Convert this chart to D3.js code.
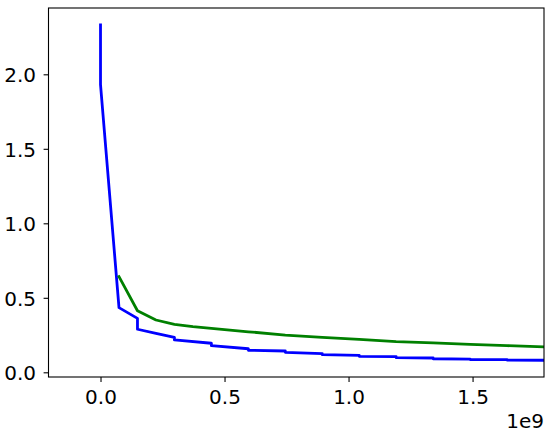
<!DOCTYPE html>
<html>
<head>
<meta charset="utf-8">
<script src="https://cdn.jsdelivr.net/npm/d3@7"></script>
<style>
  body { margin: 0; background: #fff; }
  text { font-family: "DejaVu Sans", sans-serif; fill: #000; }
</style>
</head>
<body>
<svg id="chart"></svg>
<script>
// x values are in units of 1e9 (shown as offset text "1e9")
let blueX = [0, 0, 0.0745, 0.149, 0.149, 0.2235, 0.298, 0.298, 0.447, 0.447, 0.596, 0.596,
             0.745, 0.745, 0.894, 0.894, 1.043, 1.043, 1.192, 1.192, 1.341, 1.341,
             1.49, 1.49, 1.639, 1.639, 1.79];
let blueY = [2.332, 1.93, 0.434, 0.362, 0.289, 0.262, 0.235, 0.217, 0.195, 0.179, 0.158, 0.148,
             0.143, 0.134, 0.125, 0.118, 0.114, 0.107, 0.105, 0.098, 0.096, 0.091,
             0.089, 0.086, 0.085, 0.082, 0.081];
let greenX = [0.0745, 0.149, 0.2235, 0.298, 0.3725, 0.447, 0.5215, 0.596, 0.745, 0.894,
              1.043, 1.192, 1.341, 1.49, 1.639, 1.79];
let greenY = [0.642, 0.413, 0.351, 0.322, 0.307, 0.295, 0.283, 0.272, 0.25, 0.234,
              0.221, 0.206, 0.197, 0.188, 0.179, 0.17];
let xTicks = [0, 0.5, 1.0, 1.5];
let yTicks = [0, 0.5, 1.0, 1.5, 2.0];

let width = 552,
    height = 436,
    mLeft = 48.5, mRight = 544, mTop = 8, mBottom = 377,
    svg = d3.select("#chart").attr("width", width).attr("height", height),
    xScale = d3.scaleLinear([-0.2097, 1.788], [mLeft, mRight]),
    yScale = d3.scaleLinear([-0.0315, 2.445], [mBottom, mTop]),
    xAxis = d3.axisBottom(xScale).tickValues(xTicks).tickFormat(d3.format(".1f")).tickSize(4.9).tickSizeOuter(0),
    yAxis = d3.axisLeft(yScale).tickValues(yTicks).tickFormat(d3.format(".1f")).tickSize(4.9).tickSizeOuter(0);

svg.append("clipPath").attr("id", "plotClip")
    .append("rect")
    .attr("x", mLeft).attr("y", mTop)
    .attr("width", mRight - mLeft).attr("height", mBottom - mTop);

let line = d3.line()
    .x(function(d){ return xScale(d[0]); })
    .y(function(d){ return yScale(d[1]); });

let g = svg.append("g").attr("clip-path", "url(#plotClip)");

g.append("path")
    .datum(blueX.map(function(x, i){ return [x, blueY[i]]; }))
    .attr("d", line)
    .attr("fill", "none")
    .attr("stroke", "#0000ff")
    .attr("stroke-width", 2.8)
    .attr("stroke-linejoin", "round")
    .attr("stroke-linecap", "square");

g.append("path")
    .datum(greenX.map(function(x, i){ return [x, greenY[i]]; }))
    .attr("d", line)
    .attr("fill", "none")
    .attr("stroke", "#008000")
    .attr("stroke-width", 2.8)
    .attr("stroke-linejoin", "round")
    .attr("stroke-linecap", "square");

let gx = svg.append("g")
    .attr("transform", "translate(0," + mBottom + ")")
    .call(xAxis);
gx.select(".domain").remove();
gx.selectAll(".tick line").attr("stroke", "#000").attr("stroke-width", 1.1);
gx.selectAll(".tick text")
    .attr("y", 26.5).attr("dy", null)
    .attr("font-size", "20px");

let gy = svg.append("g")
    .attr("transform", "translate(" + mLeft + ",0)")
    .call(yAxis);
gy.select(".domain").remove();
gy.selectAll(".tick line").attr("stroke", "#000").attr("stroke-width", 1.1);
gy.selectAll(".tick text")
    .attr("x", -12.5).attr("dy", "0.36em")
    .attr("font-size", "20px");

svg.append("rect")
    .attr("x", mLeft).attr("y", mTop)
    .attr("width", mRight - mLeft).attr("height", mBottom - mTop)
    .attr("fill", "none")
    .attr("stroke", "#000")
    .attr("stroke-width", 1.1);

svg.append("text")
    .attr("x", mRight).attr("y", 427.5)
    .attr("text-anchor", "end")
    .attr("font-size", "20px")
    .text("1e9");
</script>
</body>
</html>
